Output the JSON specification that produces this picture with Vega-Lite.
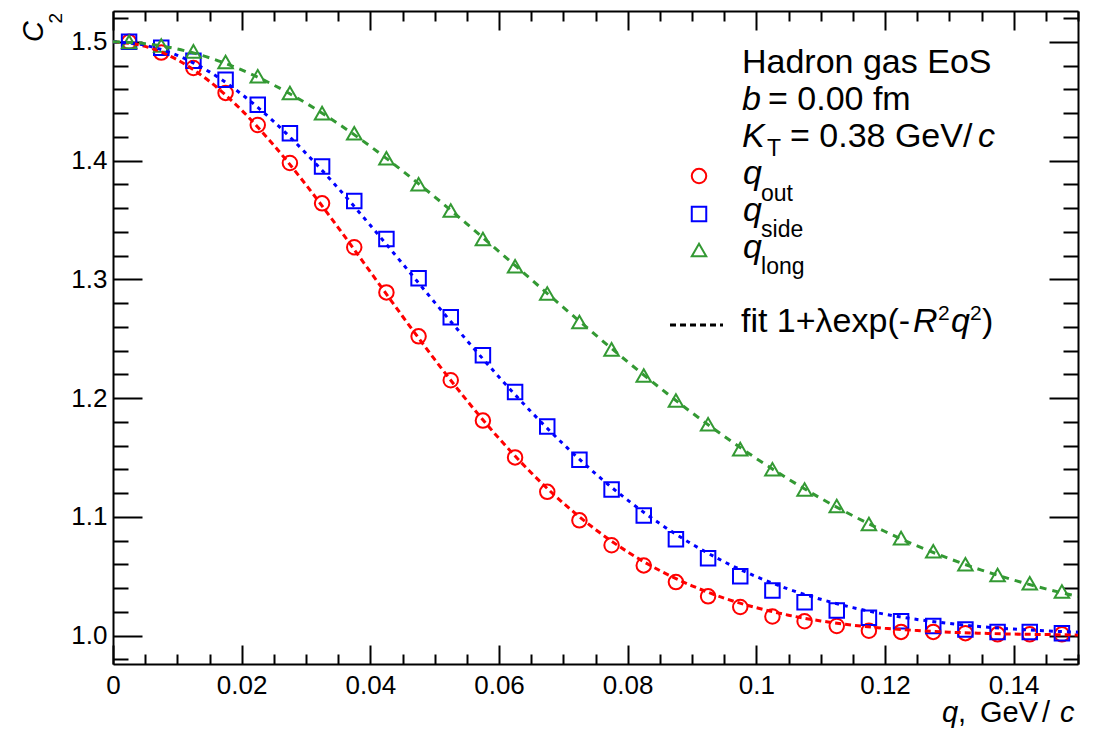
{
  "$schema": "https://vega.github.io/schema/vega-lite/v6.json",
  "width": 965,
  "height": 653,
  "autosize": "none",
  "padding": {"left": 113, "top": 11, "right": 21, "bottom": 67},
  "background": "white",
  "config": {
    "view": {"stroke": null},
    "font": "Liberation Sans",
    "axis": {"grid": false, "labelFont": "Liberation Sans", "labelColor": "black", "domainColor": "black", "tickColor": "black", "domainWidth": 2, "tickWidth": 2, "title": null, "labelOverlap": false, "labelFlush": false, "labelBound": false}
  },
  "datasets": {
    "points": [
      {"q": 0.0025, "out": 1.500, "side": 1.500, "long": 1.500},
      {"q": 0.0075, "out": 1.491, "side": 1.495, "long": 1.497},
      {"q": 0.0125, "out": 1.478, "side": 1.484, "long": 1.492},
      {"q": 0.0175, "out": 1.457, "side": 1.468, "long": 1.483},
      {"q": 0.0225, "out": 1.430, "side": 1.447, "long": 1.471},
      {"q": 0.0275, "out": 1.398, "side": 1.423, "long": 1.457},
      {"q": 0.0325, "out": 1.364, "side": 1.395, "long": 1.440},
      {"q": 0.0375, "out": 1.327, "side": 1.366, "long": 1.423},
      {"q": 0.0425, "out": 1.289, "side": 1.334, "long": 1.402},
      {"q": 0.0475, "out": 1.252, "side": 1.301, "long": 1.380},
      {"q": 0.0525, "out": 1.215, "side": 1.268, "long": 1.358},
      {"q": 0.0575, "out": 1.181, "side": 1.236, "long": 1.334},
      {"q": 0.0625, "out": 1.150, "side": 1.205, "long": 1.311},
      {"q": 0.0675, "out": 1.121, "side": 1.176, "long": 1.288},
      {"q": 0.0725, "out": 1.097, "side": 1.148, "long": 1.264},
      {"q": 0.0775, "out": 1.076, "side": 1.123, "long": 1.241},
      {"q": 0.0825, "out": 1.059, "side": 1.101, "long": 1.219},
      {"q": 0.0875, "out": 1.045, "side": 1.081, "long": 1.198},
      {"q": 0.0925, "out": 1.033, "side": 1.065, "long": 1.178},
      {"q": 0.0975, "out": 1.024, "side": 1.050, "long": 1.157},
      {"q": 0.1025, "out": 1.016, "side": 1.038, "long": 1.140},
      {"q": 0.1075, "out": 1.012, "side": 1.028, "long": 1.123},
      {"q": 0.1125, "out": 1.008, "side": 1.021, "long": 1.109},
      {"q": 0.1175, "out": 1.004, "side": 1.015, "long": 1.094},
      {"q": 0.1225, "out": 1.003, "side": 1.012, "long": 1.082},
      {"q": 0.1275, "out": 1.003, "side": 1.008, "long": 1.071},
      {"q": 0.1325, "out": 1.002, "side": 1.005, "long": 1.060},
      {"q": 0.1375, "out": 1.001, "side": 1.003, "long": 1.051},
      {"q": 0.1425, "out": 1.001, "side": 1.003, "long": 1.044},
      {"q": 0.1475, "out": 1.001, "side": 1.002, "long": 1.037}
    ],
    "fit": [
      {"q": 0.000, "out": 1.5000, "side": 1.5000, "long": 1.5000},
      {"q": 0.005, "out": 1.4962, "side": 1.4971, "long": 1.4985},
      {"q": 0.010, "out": 1.4849, "side": 1.4886, "long": 1.4940},
      {"q": 0.015, "out": 1.4667, "side": 1.4747, "long": 1.4866},
      {"q": 0.020, "out": 1.4424, "side": 1.4559, "long": 1.4764},
      {"q": 0.025, "out": 1.4129, "side": 1.4328, "long": 1.4636},
      {"q": 0.030, "out": 1.3796, "side": 1.4061, "long": 1.4484},
      {"q": 0.035, "out": 1.3436, "side": 1.3768, "long": 1.4311},
      {"q": 0.040, "out": 1.3063, "side": 1.3455, "long": 1.4120},
      {"q": 0.045, "out": 1.2689, "side": 1.3132, "long": 1.3913},
      {"q": 0.050, "out": 1.2325, "side": 1.2806, "long": 1.3695},
      {"q": 0.055, "out": 1.1980, "side": 1.2486, "long": 1.3467},
      {"q": 0.060, "out": 1.1660, "side": 1.2177, "long": 1.3234},
      {"q": 0.065, "out": 1.1371, "side": 1.1884, "long": 1.2999},
      {"q": 0.070, "out": 1.1115, "side": 1.1612, "long": 1.2764},
      {"q": 0.075, "out": 1.0893, "side": 1.1363, "long": 1.2532},
      {"q": 0.080, "out": 1.0704, "side": 1.1140, "long": 1.2305},
      {"q": 0.085, "out": 1.0547, "side": 1.0942, "long": 1.2086},
      {"q": 0.090, "out": 1.0419, "side": 1.0770, "long": 1.1876},
      {"q": 0.095, "out": 1.0315, "side": 1.0621, "long": 1.1678},
      {"q": 0.100, "out": 1.0234, "side": 1.0496, "long": 1.1491},
      {"q": 0.105, "out": 1.0171, "side": 1.0391, "long": 1.1317},
      {"q": 0.110, "out": 1.0123, "side": 1.0305, "long": 1.1156},
      {"q": 0.115, "out": 1.0087, "side": 1.0235, "long": 1.1009},
      {"q": 0.120, "out": 1.0061, "side": 1.0179, "long": 1.0876},
      {"q": 0.125, "out": 1.0042, "side": 1.0135, "long": 1.0755},
      {"q": 0.130, "out": 1.0028, "side": 1.0101, "long": 1.0647},
      {"q": 0.135, "out": 1.0019, "side": 1.0074, "long": 1.0551},
      {"q": 0.140, "out": 1.0012, "side": 1.0054, "long": 1.0467},
      {"q": 0.145, "out": 1.0008, "side": 1.0039, "long": 1.0393},
      {"q": 0.150, "out": 1.0005, "side": 1.0028, "long": 1.0329}
    ]
  },
  "resolve": {"axis": {"x": "independent", "y": "independent"}},
  "layer": [
    {
      "data": {"name": "points"},
      "transform": [{"fold": ["out", "side", "long"], "as": ["series", "C2"]}],
      "mark": {"type": "point", "filled": false, "strokeWidth": 2, "size": 210, "opacity": 1},
      "encoding": {
        "x": {"field": "q", "type": "quantitative", "scale": {"domain": [0, 0.15], "nice": false, "zero": false},
          "axis": {"orient": "top", "labels": false, "values": [0,0.005,0.01,0.015,0.02,0.025,0.03,0.035,0.04,0.045,0.05,0.055,0.06,0.065,0.07,0.075,0.08,0.085,0.09,0.095,0.1,0.105,0.11,0.115,0.12,0.125,0.13,0.135,0.14,0.145,0.15],
            "tickSize": {"condition": {"test": "abs(datum.value*50-round(datum.value*50))<0.001", "value": -19}, "value": -10}}},
        "y": {"field": "C2", "type": "quantitative", "scale": {"domain": [0.976, 1.526], "nice": false, "zero": false},
          "axis": {"orient": "right", "labels": false, "values": [0.98,1,1.02,1.04,1.06,1.08,1.1,1.12,1.14,1.16,1.18,1.2,1.22,1.24,1.26,1.28,1.3,1.32,1.34,1.36,1.38,1.4,1.42,1.44,1.46,1.48,1.5,1.52],
            "tickSize": {"condition": {"test": "abs(datum.value*10-round(datum.value*10))<0.001", "value": -29}, "value": -15}}},
        "color": {"field": "series", "type": "nominal", "scale": {"domain": ["out", "side", "long"], "range": ["#ff0000", "#0000ff", "#339933"]}, "legend": null},
        "shape": {"field": "series", "type": "nominal", "scale": {"domain": ["out", "side", "long"], "range": ["circle", "square", "triangle-up"]}, "legend": null}
      }
    },
    {
      "data": {"name": "fit"},
      "transform": [{"fold": ["out", "side", "long"], "as": ["series", "C2"]}],
      "mark": {"type": "line", "strokeWidth": 3, "interpolate": "monotone", "clip": true},
      "encoding": {
        "x": {"field": "q", "type": "quantitative", "scale": {"domain": [0, 0.15], "nice": false, "zero": false},
          "axis": {"orient": "bottom", "labelFontSize": 26, "labelPadding": 27,
            "values": [0,0.005,0.01,0.015,0.02,0.025,0.03,0.035,0.04,0.045,0.05,0.055,0.06,0.065,0.07,0.075,0.08,0.085,0.09,0.095,0.1,0.105,0.11,0.115,0.12,0.125,0.13,0.135,0.14,0.145,0.15],
            "labelExpr": "abs(datum.value*50-round(datum.value*50))<0.001 ? format(datum.value, '') : ''",
            "tickSize": {"condition": {"test": "abs(datum.value*50-round(datum.value*50))<0.001", "value": -19}, "value": -10}}},
        "y": {"field": "C2", "type": "quantitative", "scale": {"domain": [0.976, 1.526], "nice": false, "zero": false},
          "axis": {"orient": "left", "labelFontSize": 26, "labelPadding": 35,
            "values": [0.98,1,1.02,1.04,1.06,1.08,1.1,1.12,1.14,1.16,1.18,1.2,1.22,1.24,1.26,1.28,1.3,1.32,1.34,1.36,1.38,1.4,1.42,1.44,1.46,1.48,1.5,1.52],
            "labelExpr": "abs(datum.value*10-round(datum.value*10))<0.001 ? format(datum.value, '.1f') : ''",
            "tickSize": {"condition": {"test": "abs(datum.value*10-round(datum.value*10))<0.001", "value": -29}, "value": -15}}},
        "color": {"field": "series", "type": "nominal", "scale": {"domain": ["out", "side", "long"], "range": ["#ff0000", "#0000ff", "#339933"]}, "legend": null},
        "strokeDash": {"field": "series", "type": "nominal", "scale": {"domain": ["out", "side", "long"], "range": [[6, 4], [4, 5], [7, 6]]}, "legend": null}
      }
    },
    {"data": {"values": [{}]}, "mark": {"type": "point", "shape": "circle", "filled": false, "strokeWidth": 2, "size": 210, "opacity": 1, "color": "#ff0000"},
      "encoding": {"x": {"datum": 0.09109, "type": "quantitative", "axis": null}, "y": {"datum": 1.38699, "type": "quantitative", "axis": null}}},
    {"data": {"values": [{}]}, "mark": {"type": "point", "shape": "square", "filled": false, "strokeWidth": 2, "size": 210, "opacity": 1, "color": "#0000ff"},
      "encoding": {"x": {"datum": 0.09109, "type": "quantitative", "axis": null}, "y": {"datum": 1.35498, "type": "quantitative", "axis": null}}},
    {"data": {"values": [{}]}, "mark": {"type": "point", "shape": "triangle-up", "filled": false, "strokeWidth": 2, "size": 210, "opacity": 1, "color": "#339933"},
      "encoding": {"x": {"datum": 0.09109, "type": "quantitative", "axis": null}, "y": {"datum": 1.32465, "type": "quantitative", "axis": null}}},
    {"data": {"values": [{}]}, "mark": {"type": "rule", "color": "black", "strokeWidth": 3, "strokeDash": [6, 4]},
      "encoding": {"x": {"datum": 0.08658, "type": "quantitative", "axis": null}, "x2": {"datum": 0.09482}, "y": {"datum": 1.26147, "type": "quantitative", "axis": null}}},
    {"data": {"values": [{}]}, "mark": {"type": "text", "text": "Hadron gas EoS", "align": "left", "baseline": "alphabetic", "fontSize": 34, "color": "black"},
      "encoding": {"x": {"datum": 0.09777, "type": "quantitative", "axis": null}, "y": {"datum": 1.47402, "type": "quantitative", "axis": null}}},
    {"data": {"values": [{}]}, "mark": {"type": "text", "text": "b", "fontStyle": "italic", "align": "left", "baseline": "alphabetic", "fontSize": 34, "color": "black"},
      "encoding": {"x": {"datum": 0.09777, "type": "quantitative", "axis": null}, "y": {"datum": 1.4426, "type": "quantitative", "axis": null}}},
    {"data": {"values": [{}]}, "mark": {"type": "text", "text": "= 0.00 fm", "align": "left", "baseline": "alphabetic", "fontSize": 34, "color": "black"},
      "encoding": {"x": {"datum": 0.10181, "type": "quantitative", "axis": null}, "y": {"datum": 1.4426, "type": "quantitative", "axis": null}}},
    {"data": {"values": [{}]}, "mark": {"type": "text", "text": "K", "fontStyle": "italic", "align": "left", "baseline": "alphabetic", "fontSize": 34, "color": "black"},
      "encoding": {"x": {"datum": 0.09777, "type": "quantitative", "axis": null}, "y": {"datum": 1.41143, "type": "quantitative", "axis": null}}},
    {"data": {"values": [{}]}, "mark": {"type": "text", "text": "T", "align": "left", "baseline": "alphabetic", "fontSize": 23, "color": "black"},
      "encoding": {"x": {"datum": 0.10166, "type": "quantitative", "axis": null}, "y": {"datum": 1.40384, "type": "quantitative", "axis": null}}},
    {"data": {"values": [{}]}, "mark": {"type": "text", "text": "= 0.38 GeV/", "align": "left", "baseline": "alphabetic", "fontSize": 34, "color": "black"},
      "encoding": {"x": {"datum": 0.10523, "type": "quantitative", "axis": null}, "y": {"datum": 1.41143, "type": "quantitative", "axis": null}}},
    {"data": {"values": [{}]}, "mark": {"type": "text", "text": "c", "fontStyle": "italic", "align": "left", "baseline": "alphabetic", "fontSize": 34, "color": "black"},
      "encoding": {"x": {"datum": 0.13446, "type": "quantitative", "axis": null}, "y": {"datum": 1.41143, "type": "quantitative", "axis": null}}},
    {"data": {"values": [{}]}, "mark": {"type": "text", "text": "q", "fontStyle": "italic", "align": "left", "baseline": "alphabetic", "fontSize": 34, "color": "black"},
      "encoding": {"x": {"datum": 0.09793, "type": "quantitative", "axis": null}, "y": {"datum": 1.38025, "type": "quantitative", "axis": null}}},
    {"data": {"values": [{}]}, "mark": {"type": "text", "text": "out", "align": "left", "baseline": "alphabetic", "fontSize": 23, "color": "black"},
      "encoding": {"x": {"datum": 0.10073, "type": "quantitative", "axis": null}, "y": {"datum": 1.36618, "type": "quantitative", "axis": null}}},
    {"data": {"values": [{}]}, "mark": {"type": "text", "text": "q", "fontStyle": "italic", "align": "left", "baseline": "alphabetic", "fontSize": 34, "color": "black"},
      "encoding": {"x": {"datum": 0.09793, "type": "quantitative", "axis": null}, "y": {"datum": 1.34908, "type": "quantitative", "axis": null}}},
    {"data": {"values": [{}]}, "mark": {"type": "text", "text": "side", "align": "left", "baseline": "alphabetic", "fontSize": 23, "color": "black"},
      "encoding": {"x": {"datum": 0.10073, "type": "quantitative", "axis": null}, "y": {"datum": 1.33535, "type": "quantitative", "axis": null}}},
    {"data": {"values": [{}]}, "mark": {"type": "text", "text": "q", "fontStyle": "italic", "align": "left", "baseline": "alphabetic", "fontSize": 34, "color": "black"},
      "encoding": {"x": {"datum": 0.09793, "type": "quantitative", "axis": null}, "y": {"datum": 1.31791, "type": "quantitative", "axis": null}}},
    {"data": {"values": [{}]}, "mark": {"type": "text", "text": "long", "align": "left", "baseline": "alphabetic", "fontSize": 23, "color": "black"},
      "encoding": {"x": {"datum": 0.10073, "type": "quantitative", "axis": null}, "y": {"datum": 1.30443, "type": "quantitative", "axis": null}}},
    {"data": {"values": [{}]}, "mark": {"type": "text", "text": "fit 1+λexp(-", "align": "left", "baseline": "alphabetic", "fontSize": 34, "color": "black"},
      "encoding": {"x": {"datum": 0.09761, "type": "quantitative", "axis": null}, "y": {"datum": 1.25582, "type": "quantitative", "axis": null}}},
    {"data": {"values": [{}]}, "mark": {"type": "text", "text": "R", "fontStyle": "italic", "align": "left", "baseline": "alphabetic", "fontSize": 34, "color": "black"},
      "encoding": {"x": {"datum": 0.12435, "type": "quantitative", "axis": null}, "y": {"datum": 1.25582, "type": "quantitative", "axis": null}}},
    {"data": {"values": [{}]}, "mark": {"type": "text", "text": "2", "align": "left", "baseline": "alphabetic", "fontSize": 21, "color": "black"},
      "encoding": {"x": {"datum": 0.12824, "type": "quantitative", "axis": null}, "y": {"datum": 1.26568, "type": "quantitative", "axis": null}}},
    {"data": {"values": [{}]}, "mark": {"type": "text", "text": "q", "fontStyle": "italic", "align": "left", "baseline": "alphabetic", "fontSize": 34, "color": "black"},
      "encoding": {"x": {"datum": 0.13026, "type": "quantitative", "axis": null}, "y": {"datum": 1.25582, "type": "quantitative", "axis": null}}},
    {"data": {"values": [{}]}, "mark": {"type": "text", "text": "2", "align": "left", "baseline": "alphabetic", "fontSize": 21, "color": "black"},
      "encoding": {"x": {"datum": 0.13321, "type": "quantitative", "axis": null}, "y": {"datum": 1.26568, "type": "quantitative", "axis": null}}},
    {"data": {"values": [{}]}, "mark": {"type": "text", "text": ")", "align": "left", "baseline": "alphabetic", "fontSize": 34, "color": "black"},
      "encoding": {"x": {"datum": 0.13508, "type": "quantitative", "axis": null}, "y": {"datum": 1.25582, "type": "quantitative", "axis": null}}},
    {"data": {"values": [{}]}, "mark": {"type": "text", "text": "q", "fontStyle": "italic", "align": "left", "baseline": "alphabetic", "fontSize": 29, "color": "black"},
      "encoding": {"x": {"datum": 0.12886, "type": "quantitative", "axis": null}, "y": {"datum": 0.92701, "type": "quantitative", "axis": null}}},
    {"data": {"values": [{}]}, "mark": {"type": "text", "text": ",", "align": "left", "baseline": "alphabetic", "fontSize": 29, "color": "black"},
      "encoding": {"x": {"datum": 0.13135, "type": "quantitative", "axis": null}, "y": {"datum": 0.92701, "type": "quantitative", "axis": null}}},
    {"data": {"values": [{}]}, "mark": {"type": "text", "text": "GeV", "align": "left", "baseline": "alphabetic", "fontSize": 29, "color": "black"},
      "encoding": {"x": {"datum": 0.13477, "type": "quantitative", "axis": null}, "y": {"datum": 0.92701, "type": "quantitative", "axis": null}}},
    {"data": {"values": [{}]}, "mark": {"type": "text", "text": "/", "align": "left", "baseline": "alphabetic", "fontSize": 29, "color": "black"},
      "encoding": {"x": {"datum": 0.14441, "type": "quantitative", "axis": null}, "y": {"datum": 0.92701, "type": "quantitative", "axis": null}}},
    {"data": {"values": [{}]}, "mark": {"type": "text", "text": "c", "fontStyle": "italic", "align": "left", "baseline": "alphabetic", "fontSize": 29, "color": "black"},
      "encoding": {"x": {"datum": 0.1472, "type": "quantitative", "axis": null}, "y": {"datum": 0.92701, "type": "quantitative", "axis": null}}},
    {"data": {"values": [{}]}, "mark": {"type": "text", "text": "C", "fontStyle": "italic", "angle": 270, "align": "left", "baseline": "alphabetic", "fontSize": 29, "color": "black"},
      "encoding": {"x": {"datum": -0.010881, "type": "quantitative", "axis": null}, "y": {"datum": 1.49988, "type": "quantitative", "axis": null}}},
    {"data": {"values": [{}]}, "mark": {"type": "text", "text": "2", "angle": 270, "align": "left", "baseline": "alphabetic", "fontSize": 19, "color": "black"},
      "encoding": {"x": {"datum": -0.007928, "type": "quantitative", "axis": null}, "y": {"datum": 1.5155, "type": "quantitative", "axis": null}}}
  ]
}
